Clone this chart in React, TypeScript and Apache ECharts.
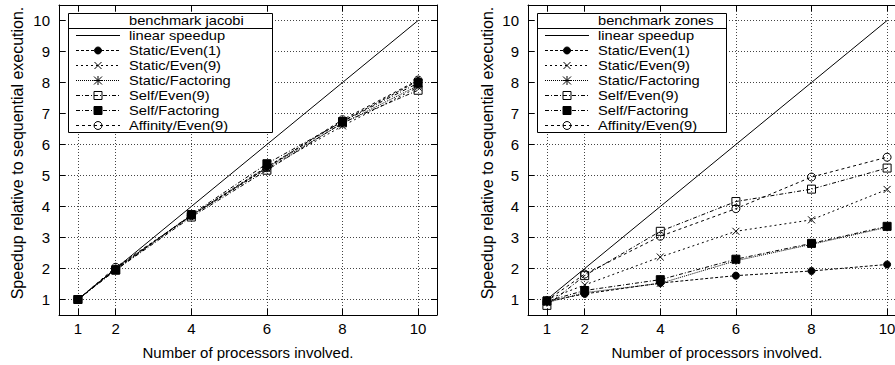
import React, { useEffect, useRef } from "react";
import * as echarts from "echarts";

// ---- data ----
const processors = [1, 2, 4, 6, 8, 10];
const xTickValues = [1, 2, 4, 6, 8, 10];
const yTickValues = [1, 2, 3, 4, 5, 6, 7, 8, 9, 10];
const seriesNames = [
  "linear speedup",
  "Static/Even(1)",
  "Static/Even(9)",
  "Static/Factoring",
  "Self/Even(9)",
  "Self/Factoring",
  "Affinity/Even(9)",
];
const linearSpeedup = [1, 2, 4, 6, 8, 10];

// benchmark jacobi
const jacobiStaticEven1 = [1, 2.0, 3.72, 5.28, 6.75, 8.05];
const jacobiStaticEven9 = [1, 1.98, 3.7, 5.22, 6.6, 7.85];
const jacobiStaticFactoring = [1, 1.99, 3.71, 5.25, 6.68, 7.9];
const jacobiSelfEven9 = [1, 1.95, 3.66, 5.17, 6.7, 7.75];
const jacobiSelfFactoring = [1, 1.95, 3.74, 5.38, 6.74, 7.98];
const jacobiAffinityEven9 = [1, 2.04, 3.7, 5.25, 6.8, 8.08];

// benchmark zones
const zonesStaticEven1 = [0.94, 1.18, 1.53, 1.77, 1.92, 2.13];
const zonesStaticEven9 = [1.0, 1.47, 2.37, 3.2, 3.57, 4.55];
const zonesStaticFactoring = [0.9, 1.22, 1.52, 2.25, 2.78, 3.33];
const zonesSelfEven9 = [0.81, 1.77, 3.2, 4.16, 4.56, 5.24];
const zonesSelfFactoring = [0.95, 1.29, 1.64, 2.3, 2.81, 3.36];
const zonesAffinityEven9 = [0.97, 1.82, 3.04, 3.93, 4.95, 5.59];

const jacobiSeries = [
  linearSpeedup,
  jacobiStaticEven1,
  jacobiStaticEven9,
  jacobiStaticFactoring,
  jacobiSelfEven9,
  jacobiSelfFactoring,
  jacobiAffinityEven9,
];
const zonesSeries = [
  linearSpeedup,
  zonesStaticEven1,
  zonesStaticEven9,
  zonesStaticFactoring,
  zonesSelfEven9,
  zonesSelfFactoring,
  zonesAffinityEven9,
];

// ---- styles ----
const FONT = "'Liberation Sans', Arial, Helvetica, sans-serif";
const CROSS = "path://M0,0L10,10M10,0L0,10";
const STAR = "path://M0,0L10,10M10,0L0,10M5,-1L5,11M-1,5L11,5";

type Style = { dash: any; symbol: string; size: number; fill: string };
const styles: Style[] = [
  { dash: "solid", symbol: "none", size: 0, fill: "none" },
  { dash: [3, 2], symbol: "circle", size: 7, fill: "#000" },
  { dash: [2, 3], symbol: CROSS, size: 7, fill: "none" },
  { dash: [1, 1], symbol: STAR, size: 8, fill: "none" },
  { dash: [4, 2, 1, 2], symbol: "rect", size: 8, fill: "none" },
  { dash: [4, 2, 1, 2], symbol: "rect", size: 8, fill: "#000" },
  { dash: [3, 3], symbol: "circle", size: 8, fill: "none" },
];

function makeSeries(values: number[][], axisIdx: number) {
  return values.map((vals, i) => {
    const st = styles[i];
    return {
      type: "line",
      name: seriesNames[i],
      xAxisIndex: axisIdx,
      yAxisIndex: axisIdx,
      data: processors.map((p, j) => [p, vals[j]]),
      symbol: st.symbol,
      symbolSize: st.size,
      showSymbol: st.symbol !== "none",
      lineStyle: { color: "#000", width: 1, type: st.dash },
      itemStyle: { color: st.fill, borderColor: "#000", borderWidth: 1 },
      emphasis: { disabled: true },
      z: 3 + i,
    };
  });
}

const Z = 100;

function markerEls(i: number, cx: number, cy: number): any[] {
  const st = styles[i];
  const stroke = { stroke: "#000", lineWidth: 1 };
  const ln = (x1: number, y1: number, x2: number, y2: number) => ({
    type: "line",
    z: Z + 2,
    shape: { x1, y1, x2, y2 },
    style: { ...stroke },
  });
  if (st.symbol === "none") return [];
  if (st.symbol === "circle") {
    return [
      {
        type: "circle",
        z: Z + 2,
        shape: { cx, cy, r: st.size / 2 },
        style: { fill: st.fill, ...stroke },
      },
    ];
  }
  if (st.symbol === "rect") {
    return [
      {
        type: "rect",
        z: Z + 2,
        shape: { x: cx - st.size / 2, y: cy - st.size / 2, width: st.size, height: st.size },
        style: { fill: st.fill, ...stroke },
      },
    ];
  }
  const h = st.size / 2;
  if (st.symbol === CROSS) {
    return [ln(cx - h, cy - h, cx + h, cy + h), ln(cx + h, cy - h, cx - h, cy + h)];
  }
  return [
    ln(cx - h, cy - h, cx + h, cy + h),
    ln(cx + h, cy - h, cx - h, cy + h),
    ln(cx, cy - h - 0.5, cx, cy + h + 0.5),
    ln(cx - h - 0.5, cy, cx + h + 0.5, cy),
  ];
}

const LEGEND_TEXT = {
  fontSize: 13.2,
  fontFamily: FONT,
  fill: "#000",
  verticalAlign: "middle",
  align: "left",
};
const LEGEND_SCALE_X = 1.11;

function legendGraphic(x0: number, y0: number, w: number, title: string) {
  const els: any[] = [];
  els.push({
    type: "rect",
    z: Z,
    shape: { x: x0 + 0.5, y: y0 + 0.5, width: w, height: 119 },
    style: { fill: "#fff", stroke: "#000", lineWidth: 1 },
  });
  els.push({
    type: "text",
    z: Z + 3,
    x: x0 + 61,
    y: y0 + 7.5,
    scaleX: LEGEND_SCALE_X,
    style: { text: title, ...LEGEND_TEXT },
  });
  els.push({
    type: "line",
    z: Z + 1,
    shape: { x1: x0 + 0.5, y1: y0 + 15.5, x2: x0 + w + 0.5, y2: y0 + 15.5 },
    style: { stroke: "#000", lineWidth: 1 },
  });
  seriesNames.forEach((name, i) => {
    const cy = y0 + 22.5 + 15 * i;
    els.push({
      type: "line",
      z: Z + 1,
      shape: { x1: x0 + 8, y1: cy, x2: x0 + 52, y2: cy },
      style: {
        stroke: "#000",
        lineWidth: 1,
        lineDash: styles[i].dash === "solid" ? null : styles[i].dash,
      },
    });
    markerEls(i, x0 + 30, cy).forEach((e) => els.push(e));
    els.push({
      type: "text",
      z: Z + 3,
      x: x0 + 61,
      y: cy,
      scaleX: LEGEND_SCALE_X,
      style: { text: name, ...LEGEND_TEXT },
    });
  });
  return els;
}

function mainX(gridIndex: number) {
  return {
    type: "value",
    gridIndex,
    min: 0.5,
    max: 10.5,
    position: "bottom",
    name: "Number of processors involved.",
    nameLocation: "middle",
    nameGap: 30,
    nameTextStyle: { fontSize: 15, fontFamily: FONT, color: "#000" },
    axisLine: { show: true, lineStyle: { color: "#000", width: 1 } },
    axisTick: { show: true, inside: true, length: 6, customValues: xTickValues, lineStyle: { color: "#000" } },
    axisLabel: { show: true, customValues: xTickValues, margin: 6, fontSize: 15, fontFamily: FONT, color: "#000" },
    splitLine: { show: true, lineStyle: { color: "#444", width: 1, type: [1, 2] } },
  };
}
function mirrorX(gridIndex: number) {
  return {
    type: "value",
    gridIndex,
    min: 0.5,
    max: 10.5,
    position: "top",
    axisLine: { show: true, lineStyle: { color: "#000", width: 1 } },
    axisTick: { show: true, inside: true, length: 6, customValues: xTickValues, lineStyle: { color: "#000" } },
    axisLabel: { show: false },
    splitLine: { show: false },
  };
}
function mainY(gridIndex: number) {
  return {
    type: "value",
    gridIndex,
    min: 0.5,
    max: 10.5,
    position: "left",
    axisLine: { show: true, lineStyle: { color: "#000", width: 1 } },
    axisTick: { show: true, inside: true, length: 6, customValues: yTickValues, lineStyle: { color: "#000" } },
    axisLabel: { show: true, customValues: yTickValues, margin: 9, fontSize: 15, fontFamily: FONT, color: "#000" },
    splitLine: { show: true, lineStyle: { color: "#444", width: 1, type: [1, 2] } },
  };
}
function mirrorY(gridIndex: number) {
  return {
    type: "value",
    gridIndex,
    min: 0.5,
    max: 10.5,
    position: "right",
    axisLine: { show: true, lineStyle: { color: "#000", width: 1 } },
    axisTick: { show: true, inside: true, length: 6, customValues: yTickValues, lineStyle: { color: "#000" } },
    axisLabel: { show: false },
    splitLine: { show: false },
  };
}

const Y_TITLE = "Speedup relative to sequential execution.";

export default function App() {
  const ref = useRef<HTMLDivElement>(null);
  useEffect(() => {
    if (!ref.current) return;
    const chart = echarts.init(ref.current, undefined, { renderer: "svg" });
    chart.setOption({
      animation: false,
      backgroundColor: "#fff",
      textStyle: { fontFamily: FONT },
      grid: [
        { left: 59, top: 5, width: 378, height: 315, show: false },
        { left: 528, top: 5, width: 378, height: 315, show: false },
      ],
      xAxis: [mainX(0), mirrorX(0), mainX(1), mirrorX(1)],
      yAxis: [mainY(0), mirrorY(0), mainY(1), mirrorY(1)],
      series: [...makeSeries(jacobiSeries, 0), ...makeSeries(zonesSeries, 2)],
      graphic: [
        ...legendGraphic(68, 13, 204, "benchmark jacobi"),
        ...legendGraphic(537, 13, 189, "benchmark zones"),
        {
          type: "text",
          z: Z,
          x: 17,
          y: 153,
          rotation: Math.PI / 2,
          style: { text: Y_TITLE, fontSize: 16, fontFamily: FONT, fill: "#000", align: "center", verticalAlign: "middle" },
        },
        {
          type: "text",
          z: Z,
          x: 487,
          y: 153,
          rotation: Math.PI / 2,
          style: { text: Y_TITLE, fontSize: 16, fontFamily: FONT, fill: "#000", align: "center", verticalAlign: "middle" },
        },
      ],
    });
    return () => chart.dispose();
  }, []);
  return (
    <div
      style={{ position: "absolute", left: 0, top: 0, width: 895, height: 365, overflow: "hidden", background: "#fff" }}
    >
      <div ref={ref} style={{ width: 930, height: 365 }} />
    </div>
  );
}
